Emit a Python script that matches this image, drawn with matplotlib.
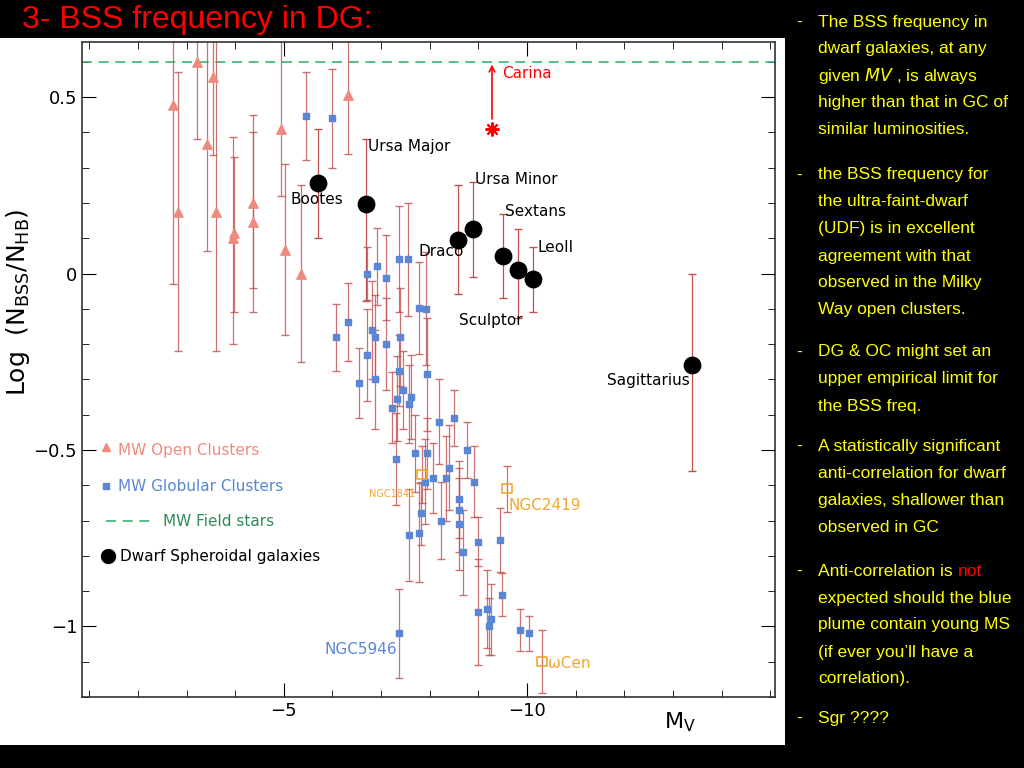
import matplotlib
matplotlib.use("Agg")
import matplotlib.pyplot as plt
import numpy as np

# ---------------- data ----------------
oc_mv  = [-2.72, -2.82, -3.21, -3.42, -3.54, -3.60, -3.95, -3.97, -4.36, -4.36, -4.94, -5.02, -5.35, -6.32]
oc_y   = [0.477, 0.173, 0.600, 0.366, 0.556, 0.173, 0.100, 0.115, 0.200, 0.145, 0.410, 0.066, 0.000, 0.505]
oc_hi  = [0.70, 0.57, 0.70, 0.70, 0.70, 0.70, 0.386, 0.33, 0.45, 0.40, 0.70, 0.31, 0.25, 0.70]
oc_lo  = [-0.03, -0.22, 0.38, 0.065, 0.335, -0.22, -0.20, -0.11, -0.04, -0.11, 0.22, -0.175, -0.25, 0.34]

gc_mv = [-5.45, -6.00, -6.07, -6.32, -6.55, -6.71, -6.71, -6.81, -6.87, -6.87, -6.91, -7.10, -7.10,
         -7.37, -7.55, -7.39, -7.37, -7.32, -7.22, -7.45, -7.61, -7.57, -7.78, -7.92, -7.94, -7.30,
         -7.70, -7.94, -7.90, -8.07, -7.82, -7.57, -7.78, -8.19, -8.50, -8.33, -8.40, -8.77, -8.91,
         -8.60, -8.60, -8.60, -8.23, -8.68, -8.99, -9.44, -8.99, -9.18, -9.26, -9.22, -9.49, -9.86,
         -10.04, -7.37]
gc_y = [0.446, 0.440, -0.180, -0.138, -0.310, 0.000, -0.230, -0.160, -0.180, -0.300, 0.020, -0.012, -0.200,
        0.040, 0.040, -0.180, -0.275, -0.355, -0.380, -0.330, -0.350, -0.370, -0.097, -0.100, -0.285, -0.525,
        -0.510, -0.510, -0.590, -0.580, -0.680, -0.740, -0.735, -0.420, -0.410, -0.580, -0.550, -0.500, -0.590,
        -0.640, -0.670, -0.710, -0.700, -0.790, -0.760, -0.755, -0.960, -0.950, -0.980, -1.000, -0.910, -1.010,
        -1.020, -1.020]
gc_err = [0.125, 0.14, 0.095, 0.11, 0.10, 0.075, 0.13, 0.14, 0.12, 0.14, 0.11, 0.12, 0.13,
          0.15, 0.16, 0.14, 0.10, 0.12, 0.10, 0.11, 0.12, 0.11, 0.13, 0.16, 0.16, 0.13,
          0.11, 0.10, 0.12, 0.10, 0.09, 0.13, 0.14, 0.12, 0.08, 0.12, 0.12, 0.08, 0.10,
          0.11, 0.12, 0.13, 0.11, 0.12, 0.07, 0.09, 0.15, 0.11, 0.10, 0.08, 0.06, 0.06,
          0.05, 0.125]

sp_names = ["NGC1841", "NGC2419", "ωCen"]
sp_mv  = [-7.84, -9.59, -10.31]
sp_y   = [-0.57, -0.61, -1.10]
sp_err = [0.08, 0.065, 0.09]

dw_names = ["Bootes", "Ursa Major", "Draco", "Ursa Minor", "Sextans", "Sculptor", "LeoII", "Sagittarius"]
dw_mv = [-5.70, -6.69, -8.58, -8.88, -9.50, -9.81, -10.12, -13.40]
dw_y  = [0.256, 0.196, 0.094, 0.125, 0.050, 0.010, -0.015, -0.260]
dw_hi = [0.41, 0.38, 0.25, 0.26, 0.17, 0.125, 0.075, 0.00]
dw_lo = [0.10, -0.077, -0.057, -0.01, -0.07, -0.125, -0.11, -0.56]

carina_mv, carina_y, carina_top = -9.28, 0.41, 0.60
field_y = 0.60

# ---------------- figure ----------------
fig = plt.figure(figsize=(10.24, 7.68), dpi=100)
fig.patch.set_facecolor("black")
fig.add_artist(plt.Rectangle((0, 23/768), 785/1024, 707/768, transform=fig.transFigure,
                             facecolor="white", edgecolor="none", zorder=-10))

ax = fig.add_axes([82/1024, 71/768, 693/1024, 655/768])
ax.set_zorder(5)
ax.set_xlim(-0.85, -15.1)
ax.set_ylim(-1.2, 0.656)

X0, X1, Y0, Y1 = 82, 775, 42, 697
def px(x, y):
    # convert reference pixel to data coords (for text placement only)
    xd = -0.85 + (x - X0) / (X1 - X0) * (-15.1 + 0.85)
    yd = 0.656 - (y - Y0) / (Y1 - Y0) * (0.656 + 1.2)
    return xd, yd

ecol = "#c0504d"
salmon = "#f08a7e"
blue = "#5b86d6"
orange = "#f0a830"

ax.axhline(field_y, color="#3cb371", ls=(0, (6, 4)), lw=1.2)

oc_mv_a = np.array(oc_mv); oc_y_a = np.array(oc_y)
ax.errorbar(oc_mv_a, oc_y_a, yerr=[oc_y_a - np.array(oc_lo), np.array(oc_hi) - oc_y_a],
            fmt="none", ecolor=ecol, elinewidth=0.9, capsize=3, alpha=0.8)
ax.scatter(oc_mv, oc_y, marker="^", s=45, color=salmon, zorder=3)

ax.errorbar(gc_mv, gc_y, yerr=gc_err, fmt="none", ecolor=ecol, elinewidth=0.9, capsize=3, alpha=0.8)
ax.scatter(gc_mv, gc_y, marker="s", s=18, color=blue, zorder=3)

ax.errorbar(sp_mv, sp_y, yerr=sp_err, fmt="none", ecolor=ecol, elinewidth=0.9, capsize=3, alpha=0.8)
ax.scatter(sp_mv, sp_y, marker="s", s=45, facecolor="none", edgecolor=orange, lw=1.2, zorder=3)

dw_y_a = np.array(dw_y)
ax.errorbar(dw_mv, dw_y, yerr=[dw_y_a - np.array(dw_lo), np.array(dw_hi) - dw_y_a],
            fmt="none", ecolor=ecol, elinewidth=0.9, capsize=3)
ax.scatter(dw_mv, dw_y, marker="o", s=140, color="black", zorder=4)

ax.plot([carina_mv], [carina_y], marker=(8, 2, 0), ms=10, color="red", mew=1.5)
ax.annotate("", xy=(carina_mv, carina_top), xytext=(carina_mv, carina_y + 0.02),
            arrowprops=dict(arrowstyle="->", color="red", lw=1.2))

lab = dict(fontsize=11, family="DejaVu Sans")
ax.text(*px(502, 73), "Carina", color="red", va="center", **lab)
ax.text(*px(368, 147), "Ursa Major", va="center", **lab)
ax.text(*px(291, 199), "Bootes", va="center", **lab)
ax.text(*px(475, 180), "Ursa Minor", va="center", **lab)
ax.text(*px(505, 212), "Sextans", va="center", **lab)
ax.text(*px(418, 252), "Draco", va="center", **lab)
ax.text(*px(538, 248), "LeoII", va="center", **lab)
ax.text(*px(459, 321), "Sculptor", va="center", **lab)
ax.text(*px(607, 381), "Sagittarius", va="center", **lab)
ax.text(*px(369, 494), "NGC1841", color=orange, va="center", fontsize=7)
ax.text(*px(509, 506), "NGC2419", color=orange, va="center", fontsize=11)
ax.text(*px(324, 649), "NGC5946", color=blue, va="center", fontsize=11)
ax.text(*px(548, 663), "ωCen", color=orange, va="center", fontsize=11)

# legend
ax.plot(*px(106, 447), marker="^", ms=6, color=salmon)
ax.text(*px(118, 451), "MW Open Clusters", color=salmon, va="center", fontsize=11)
ax.plot(*px(106, 486), marker="s", ms=4.5, color=blue)
ax.text(*px(118, 487), "MW Globular Clusters", color=blue, va="center", fontsize=11)
lx0, ly = px(106, 521); lx1, _ = px(152, 521)
ax.plot([lx0, lx1], [ly, ly], color="#3cb371", ls=(0, (6, 4)), lw=1.2)
ax.text(*px(163, 521), "MW Field stars", color="#2e8b57", va="center", fontsize=11)
ax.plot(*px(108, 556), marker="o", ms=10, color="black")
ax.text(*px(120, 557), "Dwarf Spheroidal galaxies", color="black", va="center", fontsize=11)

ax.set_xticks([-5, -10])
ax.set_xticklabels(["−5", "−10"])
ax.set_xticks(np.arange(-1, -15.5, -1), minor=True)
ax.set_yticks([0.5, 0, -0.5, -1])
ax.set_yticklabels(["0.5", "0", "−0.5", "−1"])
ax.set_yticks(np.arange(-1.2, 0.65, 0.1), minor=True)
ax.tick_params(which="both", direction="in", top=True, right=True, labelsize=13)
ax.tick_params(which="major", length=10)
ax.tick_params(which="minor", length=5)
for s in ax.spines.values():
    s.set_linewidth(1.2)
    s.set_color("#333333")
ax.set_ylabel(r"Log  (N$_{\rm BSS}$/N$_{\rm HB}$)", fontsize=18)
ax.yaxis.set_label_coords(-0.072, (697 - 302) / 655)
ax.text(*px(680, 722), r"M$_{\rm V}$", fontsize=16, ha="center", va="center", clip_on=False)

# title
fig.text(22/1024, 1 - 20/768, "3- BSS frequency in DG:", color="red", fontsize=23,
         family="Liberation Sans", va="center")

# right text
yel = "#ffff00"
blocks = [
    (22, ["The BSS frequency in", "dwarf galaxies, at any", "given $\\it{MV}$ , is always",
          "higher than that in GC of", "similar luminosities."]),
    (175, ["the BSS frequency for", "the ultra-faint-dwarf", "(UDF) is in excellent",
           "agreement with that", "observed in the Milky", "Way open clusters."]),
    (352, ["DG & OC might set an", "upper empirical limit for", "the BSS freq."]),
    (446, ["A statistically significant", "anti-correlation for dwarf",
           "galaxies, shallower than", "observed in GC"]),
    (571, [None, "expected should the blue", "plume contain young MS",
           "(if ever you\u2019ll have a", "correlation)."]),
    (718, ["Sgr ????"]),
]
tf = dict(color=yel, fontsize=12.5, family="Liberation Sans", va="center")
for y0, lines in blocks:
    fig.text(796/1024, 1 - y0/768, "-", **tf)
    for i, line in enumerate(lines):
        yy = 1 - (y0 + i * 27) / 768
        if line is None:
            t = fig.text(818/1024, yy, "Anti-correlation is ", **tf)
            fig.canvas.draw()
            bb = t.get_window_extent()
            fig.text(bb.x1 / 1024, yy, "not", color="red", fontsize=12.5,
                     family="Liberation Sans", va="center")
        else:
            fig.text(818/1024, yy, line, **tf)

fig.savefig("out.png", dpi=100, facecolor=fig.get_facecolor())
